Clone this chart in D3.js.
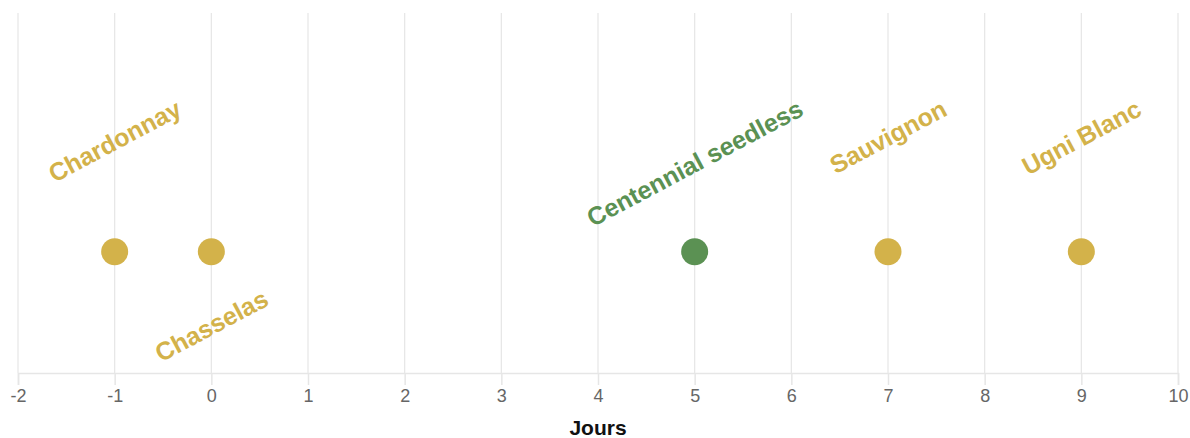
<!DOCTYPE html>
<html lang="en">
  <head>
    <meta charset="utf-8">
    <title>Cepages</title>
    <script src="https://d3js.org/d3.v7.min.js"></script>
    <style>
      body { margin: 0; background: #fff; }
      text { font-family: "Liberation Sans", Arial, sans-serif; }
    </style>
  </head>
  <body>
    <svg width="1190" height="438"></svg>
    <script type="text/javascript">
      // data
      var varieties = ["Chardonnay", "Chasselas", "Centennial seedless", "Sauvignon", "Ugni Blanc"];
      var days = [-1, 0, 5, 7, 9];
      var groups = ["blanc", "blanc", "vert", "blanc", "blanc"];
      var sides = ["up", "down", "up", "up", "up"];
      var xTicks = [-2, -1, 0, 1, 2, 3, 4, 5, 6, 7, 8, 9, 10];
      var xTitle = "Jours";

      var svg = d3.select("svg"),
          width = +svg.attr("width"),
          height = +svg.attr("height");

      var margin = {top: 13, right: 12, bottom: 65, left: 18};
      var plotBottom = height - margin.bottom;

      var x = d3.scaleLinear()
          .domain([-2, 10])
          .range([margin.left, width - margin.right]);

      var y = d3.scaleLinear()
          .domain([0, 1])
          .range([plotBottom, margin.top]);

      var color = d3.scaleOrdinal()
          .domain(["blanc", "vert"])
          .range(["#d3b24a", "#5b9153"]);

      // grid
      svg.append("g")
        .selectAll("line")
        .data(xTicks)
        .enter().append("line")
          .attr("x1", function(d) { return x(d); })
          .attr("x2", function(d) { return x(d); })
          .attr("y1", margin.top)
          .attr("y2", plotBottom)
          .attr("stroke", "#e6e6e6")
          .attr("stroke-width", 1.2);

      // axis (plain hyphen for negatives, like the original)
      var axis = svg.append("g")
          .attr("transform", "translate(0," + plotBottom + ")")
          .call(d3.axisBottom(x).tickValues(xTicks).tickSize(12).tickPadding(4)
            .tickFormat(function(d) { return String(d); }));
      axis.select(".domain").attr("stroke", "#e6e6e6").attr("stroke-width", 1.5);
      axis.selectAll(".tick line").attr("stroke", "#e6e6e6").attr("stroke-width", 1.5);
      axis.selectAll(".tick text")
          .attr("fill", "#666")
          .style("font-size", "18px")
          .style("font-family", "'Liberation Sans', Arial, sans-serif");

      svg.append("text")
          .attr("x", (x(-2) + x(10)) / 2)
          .attr("y", 435)
          .attr("text-anchor", "middle")
          .attr("fill", "#111")
          .style("font-size", "21px")
          .style("font-weight", "bold")
          .text(xTitle);

      var rows = varieties.map(function(v, i) {
        return {name: v, day: days[i], group: groups[i], side: sides[i]};
      });

      var pointY = y(0.337);

      // points
      svg.append("g")
        .selectAll("circle")
        .data(rows)
        .enter().append("circle")
          .attr("cx", function(d) { return x(d.day); })
          .attr("cy", pointY)
          .attr("r", 13.5)
          .attr("fill", function(d) { return color(d.group); });

      // labels, rotated about their centre
      var angle = 28;
      var rad = angle * Math.PI / 180;
      var label = svg.append("g")
        .selectAll("text")
        .data(rows)
        .enter().append("text")
          .attr("text-anchor", "middle")
          .attr("dominant-baseline", "central")
          .attr("fill", function(d) { return color(d.group); })
          .style("font-size", "25px")
          .style("font-weight", "bold")
          .text(function(d) { return d.name; });

      label.attr("transform", function(d) {
        var len = this.getComputedTextLength();
        var ext = len * Math.sin(rad) + 20 * Math.cos(rad);
        var cy = d.side == "up" ? pointY - 154 + ext / 2 : pointY + 36 + ext / 2;
        return "translate(" + x(d.day) + "," + cy + ") rotate(" + (-angle) + ")";
      });
    </script>
  </body>
</html>
